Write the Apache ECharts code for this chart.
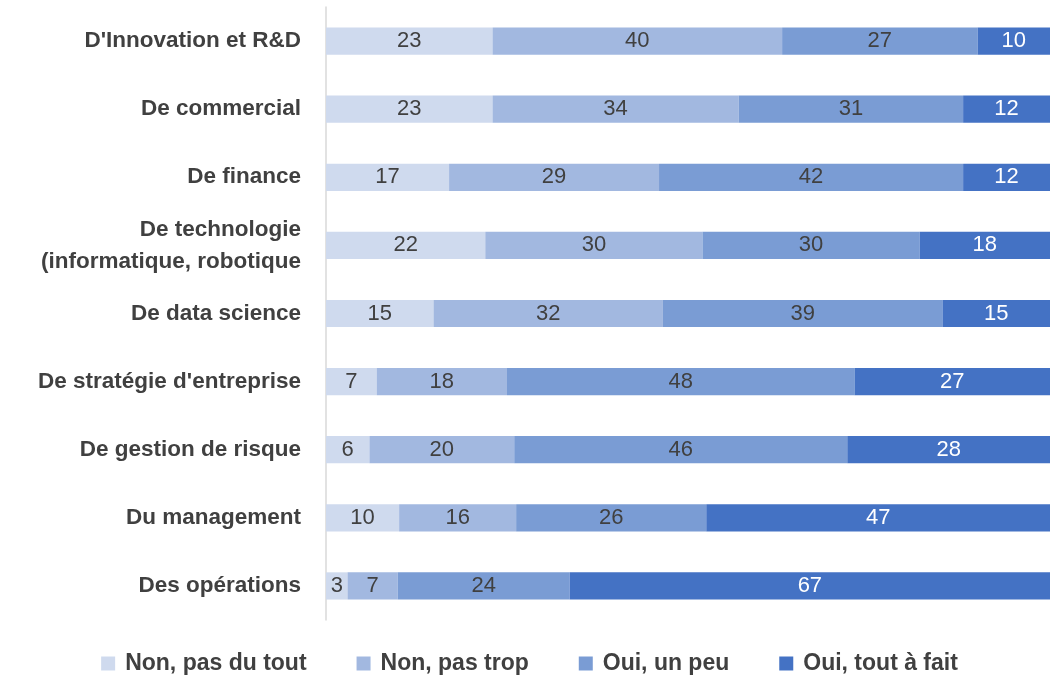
<!DOCTYPE html>
<html><head><meta charset="utf-8">
<script src="https://cdn.jsdelivr.net/npm/echarts@6/dist/echarts.min.js"></script>
<style>html,body{margin:0;padding:0;background:#fff}#c{width:1059px;height:679px}</style>
</head><body><div id="c"></div>
<script>
const categories = ["D'Innovation et R&D","De commercial","De finance","De technologie\n(informatique, robotique","De data science","De stratégie d'entreprise","De gestion de risque","Du management","Des opérations"];
const seriesNames = ["Non, pas du tout","Non, pas trop","Oui, un peu","Oui, tout à fait"];
const nonPasDuTout = [23,23,17,22,15,7,6,10,3];
const nonPasTrop = [40,34,29,30,32,18,20,16,7];
const ouiUnPeu = [27,31,42,30,39,48,46,26,24];
const ouiToutAFait = [10,12,12,18,15,27,28,47,67];
const colors = ["#CFDAEE","#A2B8E0","#7A9CD4","#4472C4"];
const labelColors = ["#404040","#404040","#404040","#FFFFFF"];
const raw = [nonPasDuTout,nonPasTrop,ouiUnPeu,ouiToutAFait];
const totals = categories.map((c,i)=>raw.reduce((s,a)=>s+a[i],0));
const font = "Liberation Sans";
const chart = echarts.init(document.getElementById('c'));
chart.setOption({
  animation:false,
  textStyle:{fontFamily:font},
  grid:{left:326,right:9,top:7,bottom:59,containLabel:false},
  legend:{bottom:-1,left:'center',itemWidth:14,itemHeight:14,itemGap:50,icon:'rect',
    textStyle:{fontFamily:font,fontSize:23,fontWeight:'bold',color:'#404040',padding:[0,0,0,5]},data:seriesNames},
  xAxis:{type:'value',min:0,max:100,show:false},
  yAxis:{type:'category',inverse:true,data:categories,
    axisLine:{show:true,lineStyle:{color:'#D9D9D9',width:1.5}},axisTick:{show:false},
    axisLabel:{margin:25,fontFamily:font,fontSize:22.5,fontWeight:'bold',color:'#404040',lineHeight:32,align:'right'}},
  series: raw.map((arr,k)=>({
    name:seriesNames[k],type:'bar',stack:'t',barWidth:'40%',
    itemStyle:{color:colors[k]},
    label:{show:true,position:'inside',fontFamily:font,fontSize:22,color:labelColors[k],
      formatter:p=>String(arr[p.dataIndex])},
    data:arr.map((v,i)=>v/totals[i]*100)
  }))
});
</script></body></html>
